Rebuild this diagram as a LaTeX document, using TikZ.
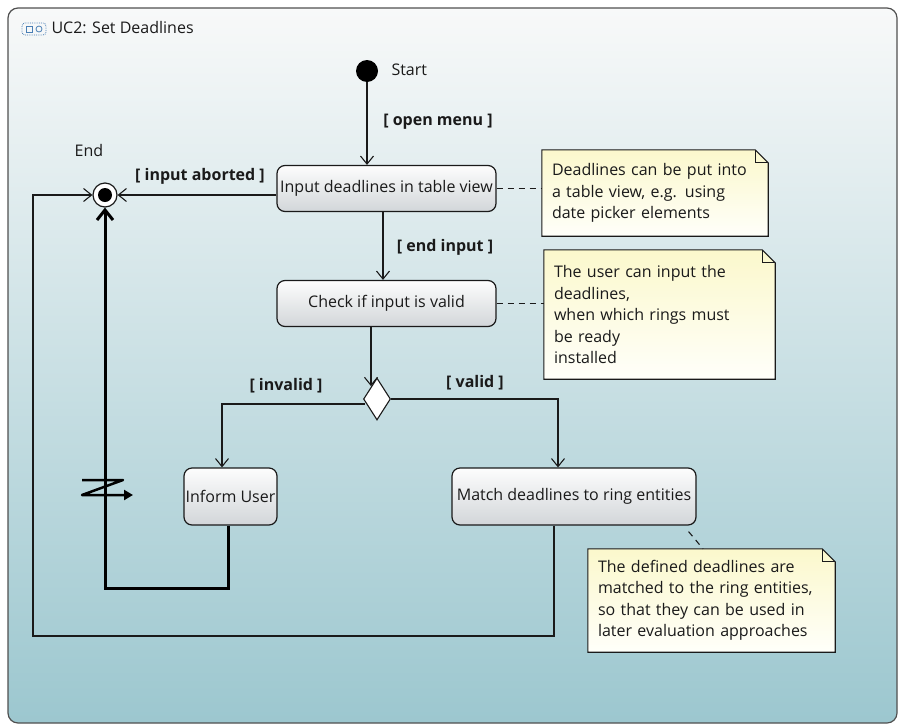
\documentclass[tikz,border=0pt]{standalone}
\usepackage{fontspec}
\setmainfont{Open Sans}
\usetikzlibrary{arrows.meta,shapes.geometric,calc}
\pgfdeclarelayer{back}
\pgfdeclarelayer{mid}
\pgfsetlayers{back,mid,main}
\definecolor{bgTop}{HTML}{F8F9F9}
\definecolor{bgBot}{HTML}{9CC7CF}
\definecolor{boxTop}{HTML}{FDFDFD}
\definecolor{boxBot}{HTML}{D2D6D9}
\definecolor{noteTop}{HTML}{FBF8CC}
\definecolor{noteBot}{HTML}{FFFFFA}
\definecolor{ink}{HTML}{1A1A1A}
\definecolor{frameC}{HTML}{505050}
\definecolor{iconblue}{HTML}{4A7FB5}
\begin{document}
\begin{tikzpicture}[x=1pt,y=-1pt,
  every node/.style={font=\fontsize{16}{21.5}\selectfont, text=ink},
  action/.style={draw=ink, line width=1.2pt, rounded corners=8pt, top color=boxTop, bottom color=boxBot, inner sep=0pt},
  guard/.style={font=\fontsize{16}{21.5}\selectfont\bfseries},
  flow/.style={draw=ink, line width=1.1pt, -{Straight Barb[length=8pt,width=13pt]}},
  thickflow/.style={draw=black, line width=3pt, -{Straight Barb[length=10pt,width=16pt]}},
  notelink/.style={draw=ink, line width=1.1pt, dash pattern=on 6pt off 5pt},
  notebox/.style={inner xsep=10pt, inner ysep=4pt, align=left},
]
\useasboundingbox (0,0) rectangle (904,726);
\begin{pgfonlayer}{back}
  \fill[white] (0,0) rectangle (904,726);
  \shade[top color=bgTop, bottom color=bgBot, rounded corners=10pt] (8,8) rectangle (897,723);
  \draw[frameC, line width=1.2pt, rounded corners=10pt] (8,8) rectangle (897,723);
\end{pgfonlayer}

% title
\draw[iconblue, densely dotted, line width=0.8pt, rounded corners=3pt] (22,23) rectangle (46,35);
\draw[iconblue, line width=0.8pt] (26,26) rectangle (32,32);
\draw[iconblue, line width=0.8pt] (39,29) circle (3pt);
\node[anchor=west] (title) at (48,28) {UC2: Set Deadlines};

% initial / final
\node[circle, fill=black, minimum size=22pt, inner sep=0pt] (start) at (367,71) {};
\node[anchor=west] (startlbl) at (388,70) {Start};
\node[circle, draw=ink, line width=1.2pt, fill=white, minimum size=24pt, inner sep=0pt,
  path picture={\fill[black] (path picture bounding box.center) circle (7pt);}] (end) at (105,195) {};
\node (endlbl) at (89,150) {End};

% actions
\node[action, minimum width=219pt, minimum height=46pt] (inp) at (386.5,188.5) {Input deadlines in table view};
\node[action, minimum width=219pt, minimum height=46pt] (chk) at (386.5,303.5) {Check if input is valid};
\node[action, minimum width=93pt, minimum height=57pt] (inf) at (230.5,496.5) {Inform User};
\node[action, minimum width=244pt, minimum height=57pt] (mat) at (574,496.5) {Match deadlines to ring entities};

% decision
\node[diamond, draw=ink, line width=1.1pt, fill=white, minimum width=27pt, minimum height=42pt, inner sep=0pt] (dia) at (377,399) {};
\coordinate (dtop) at ([xshift=-6pt,yshift=-8.7pt]dia.north);

% notes
\node[notebox, text width=206pt, minimum width=226pt, minimum height=86pt] (n1) at (655,193)
  {Deadlines can be put into\\a table view, e.g. using\\date picker elements};
\node[notebox, text width=211pt, minimum width=231pt, minimum height=129pt] (n2) at (659.5,314.5)
  {The user can input the\\deadlines,\\when which rings must\\be ready\\installed};
\node[notebox, text width=227pt, minimum width=247pt, minimum height=103pt] (n3) at (711.5,600.5)
  {The defined deadlines are\\matched to the ring entities,\\so that they can be used in\\later evaluation approaches};
\begin{pgfonlayer}{mid}
  \foreach \n in {n1,n2,n3}{
    \shadedraw[top color=noteTop, bottom color=noteBot, draw=ink, line width=1.1pt, line join=miter]
      (\n.north west) -- ([xshift=-13pt]\n.north east) -- ([yshift=-13pt]\n.north east)
      -- (\n.south east) -- (\n.south west) -- cycle;
    \draw[ink, line width=1.1pt]
      ([xshift=-13pt]\n.north east) -- ([xshift=-13pt,yshift=-13pt]\n.north east) -- ([yshift=-13pt]\n.north east);
  }
\end{pgfonlayer}

% flows
\draw[flow] (start.south) -- (start.south |- inp.north);
\node[guard] (gopen) at (438,122) {[ open menu ]};
\draw[flow] (end.east -| inp.west) -- (end.east);
\node[guard] (gabort) at (200,176) {[ input aborted ]};
\draw[flow] ([xshift=-3.5pt]inp.south) -- ([xshift=-3.5pt]chk.north);
\node[guard] (gend) at (445,247) {[ end input ]};
\draw[flow] (chk.south -| dtop) -- (dtop);
\draw[flow] ([xshift=2pt,yshift=-5pt]dia.west) -| ([xshift=-8.5pt]inf.north);
\node[guard] (ginv) at (286,386) {[ invalid ]};
\draw[flow] (dia.east) -| ([xshift=-16pt]mat.north);
\node[guard] (gval) at (475,383) {[ valid ]};
\coordinate (lb) at (33,636);
\draw[flow] ([xshift=-20pt]mat.south) |- (lb) |- (end.west);
\draw[thickflow] ([xshift=-2pt]inf.south) -- ++(0,63) -| (end.south);
\draw[black, line width=2.5pt, line join=round, -{Triangle[length=9pt,width=10pt]}]
  (82,480) -- (123,480) -- (82,495) -- (133,495);

% note links
\draw[notelink] (inp.east) -- (inp.east -| n1.west);
\draw[notelink] (chk.east) -- (chk.east -| n2.west);
\draw[notelink] ([xshift=-8pt,yshift=-6pt]mat.south east) -- ([xshift=-8.5pt]n3.north);
\end{tikzpicture}
\end{document}
